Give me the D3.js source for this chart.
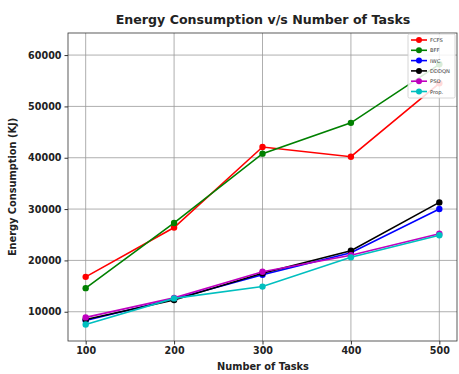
<!DOCTYPE html>
<html>
<head>
<meta charset="utf-8">
<script src="https://cdn.jsdelivr.net/npm/d3@7"></script>
<style>
  html, body { margin: 0; padding: 0; background: #fff; }
  svg { display: block; }
  text { font-family: "DejaVu Sans", sans-serif; }
</style>
</head>
<body>
<svg id="chart" width="459" height="374"></svg>
<script>
// Number of tasks on the x axis
const tasks = [100, 200, 300, 400, 500];

// Energy consumption (KJ) per algorithm
const fcfs  = [16800, 26400, 42100, 40200, 54500];
const bff   = [14600, 27300, 40800, 46800, 58200];
const iwc   = [8300, 12500, 17200, 21500, 30000];
const dddqn = [8500, 12300, 17500, 21900, 31300];
const pso   = [8900, 12700, 17800, 21000, 25200];
const prop  = [7500, 12600, 14900, 20600, 24900];

const seriesNames  = ["FCFS", "BFF", "IWC", "DDDQN", "PSO", "Prop."];
const seriesColors = ["#ff0000", "#008000", "#0000ff", "#000000", "#bf00bf", "#00bfbf"];
const seriesValues = [fcfs, bff, iwc, dddqn, pso, prop];

const xTicks = [100, 200, 300, 400, 500];
const yTicks = [10000, 20000, 30000, 40000, 50000, 60000];

const svg = d3.select("#chart");
const plotL = 68, plotR = 457, plotT = 33, plotB = 341;

const x = d3.scaleLinear().domain([80, 520]).range([plotL, plotR]);
const y = d3.scaleLinear().domain([4300, 64300]).range([plotB, plotT]);

// grid
svg.append("g")
  .selectAll("line").data(xTicks).join("line")
  .attr("x1", d => x(d)).attr("x2", d => x(d))
  .attr("y1", plotT).attr("y2", plotB)
  .attr("stroke", "#9a9a9a").attr("stroke-width", 0.8);
svg.append("g")
  .selectAll("line").data(yTicks).join("line")
  .attr("x1", plotL).attr("x2", plotR)
  .attr("y1", d => y(d)).attr("y2", d => y(d))
  .attr("stroke", "#9a9a9a").attr("stroke-width", 0.8);

// axes
const xAxis = svg.append("g")
  .attr("transform", `translate(0,${plotB})`)
  .call(d3.axisBottom(x).tickValues(xTicks).tickSize(3.5).tickPadding(3).tickFormat(d3.format("d")));
const yAxis = svg.append("g")
  .attr("transform", `translate(${plotL},0)`)
  .call(d3.axisLeft(y).tickValues(yTicks).tickSize(3.5).tickPadding(3).tickFormat(d3.format("d")));
[xAxis, yAxis].forEach(g => {
  g.select(".domain").remove();
  g.selectAll("line").attr("stroke", "#333");
  g.selectAll("text").attr("font-size", 9.6).attr("font-weight", "bold")
    .attr("font-family", "DejaVu Sans, sans-serif").attr("fill", "#222");
});

// frame
svg.append("rect")
  .attr("x", plotL).attr("y", plotT)
  .attr("width", plotR - plotL).attr("height", plotB - plotT)
  .attr("fill", "none").attr("stroke", "#333").attr("stroke-width", 0.8);

// lines and markers
const line = d3.line().x((d, i) => x(tasks[i])).y(d => y(d));
seriesValues.forEach((vals, k) => {
  const g = svg.append("g");
  g.append("path").datum(vals)
    .attr("d", line).attr("fill", "none")
    .attr("stroke", seriesColors[k]).attr("stroke-width", 1.6);
  g.selectAll("circle").data(vals).join("circle")
    .attr("cx", (d, i) => x(tasks[i])).attr("cy", d => y(d))
    .attr("r", 3.2).attr("fill", seriesColors[k]);
});

// title and axis labels
svg.append("text")
  .attr("x", 263).attr("y", 24)
  .attr("text-anchor", "middle").attr("font-size", 12.6).attr("font-weight", "bold")
  .attr("fill", "#222")
  .text("Energy Consumption v/s Number of Tasks");
svg.append("text")
  .attr("x", 263).attr("y", 370)
  .attr("text-anchor", "middle").attr("font-size", 9.8).attr("font-weight", "bold")
  .attr("fill", "#222")
  .text("Number of Tasks");
svg.append("text")
  .attr("transform", `translate(16,${(plotT + plotB) / 2}) rotate(-90)`)
  .attr("text-anchor", "middle").attr("font-size", 9.8).attr("font-weight", "bold")
  .attr("fill", "#222")
  .text("Energy Consumption (KJ)");

// legend
const lg = svg.append("g").attr("transform", "translate(408,34)");
lg.append("rect")
  .attr("x", 0).attr("y", 0).attr("width", 47).attr("height", 64)
  .attr("fill", "#fff").attr("fill-opacity", 0.85)
  .attr("stroke", "#ccc").attr("stroke-width", 0.8).attr("rx", 1.5);
seriesNames.forEach((name, k) => {
  const yy = 6 + k * 10.3;
  lg.append("line")
    .attr("x1", 3).attr("x2", 19).attr("y1", yy).attr("y2", yy)
    .attr("stroke", seriesColors[k]).attr("stroke-width", 1.6);
  lg.append("circle").attr("cx", 11).attr("cy", yy).attr("r", 3).attr("fill", seriesColors[k]);
  lg.append("text")
    .attr("x", 22).attr("y", yy + 2)
    .attr("font-size", 5.2).attr("fill", "#333")
    .text(name);
});
</script>
</body>
</html>
